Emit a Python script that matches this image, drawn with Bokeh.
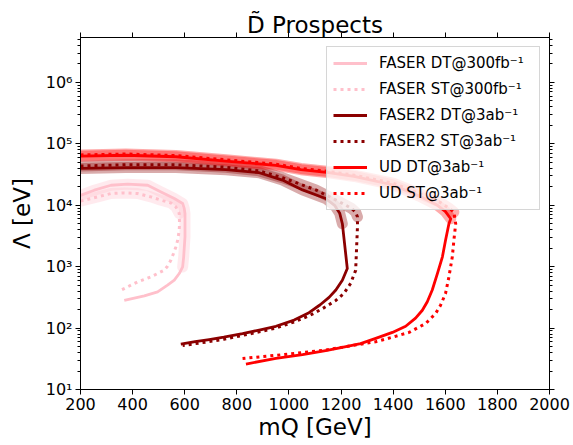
from bokeh.plotting import figure
from bokeh.models import (Range1d, LinearAxis, LogAxis, FixedTicker, CustomJSTickFormatter,
                          Legend, LegendItem)
from bokeh.embed import file_html
from bokeh.resources import INLINE

# ---------------- data ----------------
x_ticks = [200, 400, 600, 800, 1000, 1200, 1400, 1600, 1800, 2000]
y_ticks = [1e1, 1e2, 1e3, 1e4, 1e5, 1e6]
y_minor = [k * 10 ** e for e in range(1, 7) for k in range(2, 10)]

faser_dt_m = [200, 253, 317, 381, 458, 509, 560, 592, 598, 601, 601, 596, 592,
              579, 560, 534, 496, 445, 368]
faser_dt_L = [14500, 17600, 21200, 22100, 21200, 16500, 12900, 10700, 8900, 7350, 3060, 1450, 990,
              774, 603, 500, 389, 334, 284]
faser_dt_band = 13

faser_st_m = [200, 266, 317, 368, 419, 470, 509, 547, 566, 579, 580, 579, 573, 566, 557,
              547, 534, 521, 496, 470, 419, 355]
faser_st_L = [11700, 13700, 15560, 15920, 15560, 13700, 12100, 10940, 9420, 7350, 5060, 3930, 2700, 2100, 1640,
              1280, 1020, 877, 774, 682, 565, 414]
faser_st_band = 10

faser2_dt_m = [200, 374, 566, 758, 886, 975, 1052, 1141, 1175, 1195, 1205, 1224, 1205, 1180, 1154,
               1120, 1077, 1020, 950, 886, 822, 750, 694, 640, 585]
faser2_dt_L = [39800, 41200, 41200, 38000, 33900, 25700, 17800, 12900, 10000, 7400, 5010, 933, 603,
               417, 316, 240, 178, 135, 107, 93, 81, 71, 65, 60, 55]
faser2_dt_band = 11

faser2_st_m = [200, 374, 566, 758, 886, 975, 1103, 1192, 1240, 1256, 1263, 1263, 1256, 1237, 1210,
               1180, 1130, 1077, 1020, 950, 886, 822, 750, 680, 592]
faser2_st_L = [43600, 45700, 45700, 41700, 36300, 28200, 17800, 11500, 8900, 7760, 6460, 4470, 871,
               537, 363, 282, 209, 158, 126, 100, 87, 76, 66, 59, 52]
faser2_st_band = 11

ud_dt_m = [200, 374, 566, 758, 950, 1046, 1153, 1250, 1400, 1500, 1570, 1600, 1621,
           1614, 1601, 1589, 1570, 1550, 1531, 1512, 1486, 1448, 1397, 1333, 1275, 1200,
           1141, 1052, 950, 835]
ud_dt_L = [63100, 65300, 61700, 52500, 44700, 38000, 33900, 29500, 21400, 14100, 10000, 7940, 6030,
           5010, 2690, 1450, 776, 417, 269, 195, 145, 107, 85, 68, 56, 48,
           43, 37, 32, 26]
ud_dt_band = 13

ud_st_m = [200, 374, 566, 758, 950, 1046, 1153, 1250, 1400, 1500, 1580, 1615, 1633,
           1640, 1633, 1627, 1614, 1601, 1582, 1563, 1525, 1461, 1397, 1333, 1244,
           1141, 1052, 950, 822]
ud_st_L = [66100, 68400, 64600, 55000, 46800, 39800, 35500, 30900, 22900, 15500, 11200, 8910, 7760,
           5010, 2700, 1450, 682, 366, 236, 173, 119, 85, 71, 60, 52,
           44, 40, 36, 32]
ud_st_band = 13

labels = ["FASER DT@300fb⁻¹", "FASER ST@300fb⁻¹", "FASER2 DT@3ab⁻¹",
          "FASER2 ST@3ab⁻¹", "UD DT@3ab⁻¹", "UD ST@3ab⁻¹"]

# ---------------- figure ----------------
p = figure(width=573, height=445, y_axis_type="log",
           x_range=Range1d(200, 2000), y_range=Range1d(10, 5.4e6),
           output_backend="svg", toolbar_location=None,
           min_border_left=80, min_border_right=24, min_border_top=37, min_border_bottom=56)
p.xgrid.visible = False
p.ygrid.visible = False
p.outline_line_color = "black"
p.outline_line_width = 1
p.background_fill_color = "white"
p.border_fill_color = "white"

p.title.text = "D\u0303 Prospects"
p.title.align = "center"
p.title.text_font = "DejaVu Sans"
p.title.text_font_size = "23px"
p.title.text_font_style = "normal"
p.title.text_color = "black"
p.title.standoff = 0

sup_code = """
const sup = {"0":"\u2070","1":"\u00b9","2":"\u00b2","3":"\u00b3","4":"\u2074","5":"\u2075","6":"\u2076","7":"\u2077","8":"\u2078","9":"\u2079","-":"\u207b"};
const e = Math.round(Math.log10(tick));
return "10" + String(e).split("").map(c => sup[c]).join("");
"""

def style_axis(ax, minor):
    ax.major_tick_out = 5
    ax.major_tick_in = 0
    ax.minor_tick_out = 3 if minor else 0
    ax.minor_tick_in = 0
    if not minor:
        ax.minor_tick_line_color = None
    ax.major_tick_line_color = "black"
    ax.axis_line_color = "black"
    ax.major_label_text_font = "DejaVu Sans"
    ax.major_label_text_font_size = "16px"
    ax.major_label_text_color = "black"

xt = FixedTicker(ticks=x_ticks)
yt = FixedTicker(ticks=y_ticks, minor_ticks=y_minor)

xa = p.below[0]
xa.ticker = xt
style_axis(xa, False)
xa.major_label_standoff = 3
xa.axis_label = "mQ [GeV]"
xa.axis_label_text_font = "DejaVu Sans"
xa.axis_label_text_font_size = "23px"
xa.axis_label_text_font_style = "normal"
xa.axis_label_text_color = "black"
xa.axis_label_standoff = 1

ya = p.left[0]
ya.ticker = yt
ya.formatter = CustomJSTickFormatter(code=sup_code)
style_axis(ya, True)
ya.major_label_standoff = 3
ya.axis_label = "Λ [eV]"
ya.axis_label_text_font = "DejaVu Sans"
ya.axis_label_text_font_size = "23px"
ya.axis_label_text_font_style = "normal"
ya.axis_label_text_color = "black"
ya.axis_label_standoff = 8

ta = LinearAxis(ticker=xt, formatter=CustomJSTickFormatter(code="return '';"))
style_axis(ta, False)
ta.major_tick_out = 0
ta.major_tick_in = -5
ta.major_label_standoff = 0
ta.major_label_text_font_size = "0px"
p.add_layout(ta, "above")

ra = LogAxis(ticker=yt, formatter=CustomJSTickFormatter(code="return '';"))
style_axis(ra, True)
ra.major_label_standoff = 0
ra.major_label_text_font_size = "0px"
p.add_layout(ra, "right")

# ---------------- curves ----------------
series = [
    (faser_dt_m, faser_dt_L, faser_dt_band, "#FFC0CB", None),
    (faser_st_m, faser_st_L, faser_st_band, "#FFC0CB", "3 4"),
    (faser2_dt_m, faser2_dt_L, faser2_dt_band, "#8B0000", None),
    (faser2_st_m, faser2_st_L, faser2_st_band, "#8B0000", "3 4"),
    (ud_dt_m, ud_dt_L, ud_dt_band, "#FF0000", None),
    (ud_st_m, ud_st_L, ud_st_band, "#FF0000", "3 4"),
]

for m, L, nb, col, dash in series:
    p.line(m[:nb], L[:nb], line_width=11, line_color=col, line_alpha=0.33,
           line_cap="round", line_join="round")

items = []
for (m, L, nb, col, dash), lab in zip(series, labels):
    if dash is None:
        r = p.line(m, L, line_width=2.8, line_color=col, line_join="round")
    else:
        r = p.line(m, L, line_width=3, line_color=col, line_dash=dash, line_join="round")
    items.append(LegendItem(label=lab, renderers=[r]))

legend = Legend(items=items, location="top_right",
                label_text_font="DejaVu Sans", label_text_font_size="15px",
                label_text_color="black",
                glyph_width=34, glyph_height=20, label_height=20, label_width=154,
                label_standoff=12, spacing=6, padding=6, margin=9,
                border_line_color="#cccccc", border_line_alpha=0.8,
                background_fill_color="white", background_fill_alpha=0.8)
p.add_layout(legend)

open("out.html", "w").write(file_html(p, INLINE))
